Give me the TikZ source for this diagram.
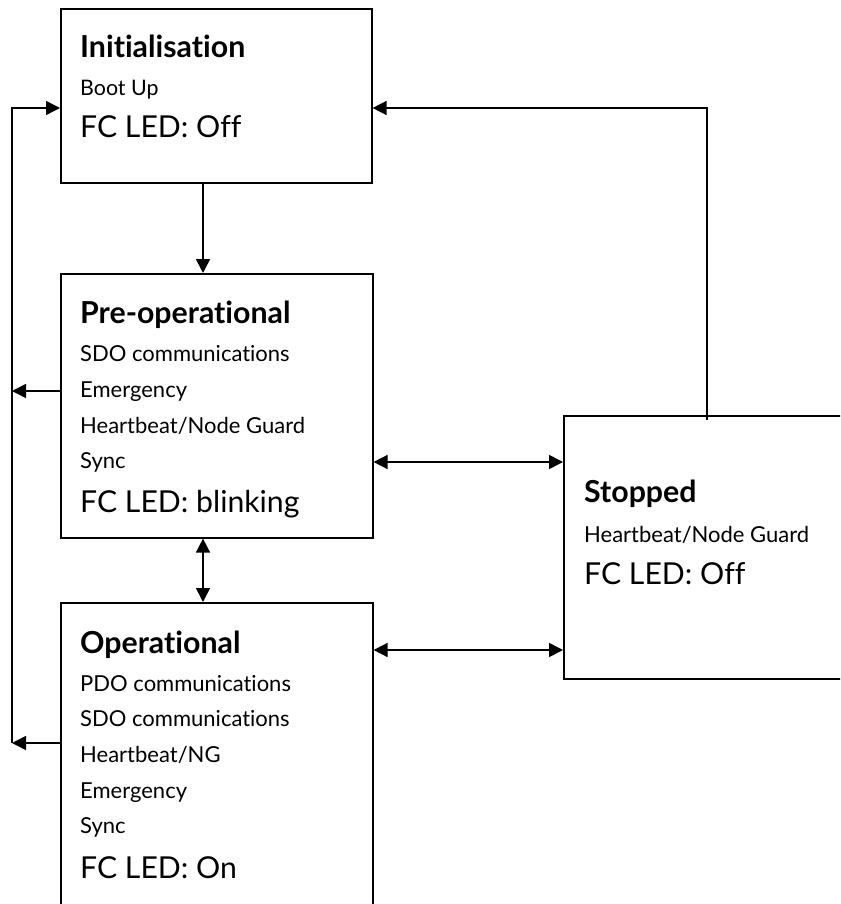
\documentclass[tikz,border=0pt]{standalone}
\usepackage{fontspec}
\setmainfont{Lato}[Ligatures=NoCommon]
\usetikzlibrary{arrows.meta}
\begin{document}
\begin{tikzpicture}[x=1pt,y=-1pt,
 box/.style={draw, line width=1.6pt, inner sep=0pt, anchor=north west},
 arr/.style={line width=1.6pt, -{Triangle[length=14pt,width=14pt]}},
 darr/.style={line width=1.6pt, {Triangle[length=14pt,width=14pt]}-{Triangle[length=14pt,width=14pt]}},
 ttl/.style={anchor=base west, inner sep=0pt, font=\fontsize{30.3}{32}\selectfont\bfseries},
 sml/.style={anchor=base west, inner sep=0pt, font=\fontsize{22}{24}\selectfont},
 tiny/.style={anchor=base west, inner sep=0pt, font=\fontsize{21.4}{23}\selectfont},
 led/.style={anchor=base west, inner sep=0pt, font=\fontsize{30.2}{32}\selectfont}]
\useasboundingbox (0,0) rectangle (840,904);
\clip (0,0) rectangle (840,904);
% boxes
\node[box, minimum width=311pt, minimum height=174pt] (init) at (60,8) {};
\node[box, minimum width=312pt, minimum height=264pt] (preop) at (60,273) {};
\node[box, minimum width=312pt, minimum height=330pt] (op) at (60,602) {};
\node[box, minimum width=300pt, minimum height=263pt] (stop) at (563,415) {};
% texts
\node[ttl] (t1) at (80,58) {Initialisation};
\node[tiny] (t1a) at (80,96) {Boot Up};
\node[led] (t1b) at (80,138) {FC LED: Off};
\node[ttl] (t2) at (80,323) {Pre-operational};
\node[sml] (t2a) at (80,361) {SDO communications};
\node[sml] (t2b) at (80,397) {Emergency};
\node[sml] (t2c) at (80,433) {Heartbeat/Node Guard};
\node[sml] (t2d) at (80,468) {Sync};
\node[led] (t2e) at (80,512) {FC LED: blinking};
\node[ttl] (t3) at (80,653) {Operational};
\node[sml] (t3a) at (80,691) {PDO communications};
\node[sml] (t3b) at (80,726) {SDO communications};
\node[sml] (t3c) at (80,762) {Heartbeat/NG};
\node[sml] (t3d) at (80,798) {Emergency};
\node[sml] (t3e) at (80,833) {Sync};
\node[led] (t3f) at (80,878) {FC LED: On};
\node[ttl] (t4) at (584,502) {Stopped};
\node[sml] (t4a) at (584,542) {Heartbeat/Node Guard};
\node[led] (t4b) at (584,584) {FC LED: Off};
% helper coordinates
\coordinate (vx) at (203,0);
\coordinate (rx) at (707,0);
\coordinate (lx) at (12,0);
\coordinate (ytop) at (0,108);
\coordinate (ypre) at (0,391);
\coordinate (yop) at (0,743);
\coordinate (ys1) at (0,462);
\coordinate (ys2) at (0,650);
% connectors
\draw[arr] (init.south -| vx) -- (preop.north -| vx);
\draw[darr] (preop.south -| vx) -- (op.north -| vx);
\draw[darr] (preop.east |- ys1) -- (stop.west |- ys1);
\draw[darr] (op.east |- ys2) -- (stop.west |- ys2);
\draw[arr] ([yshift=-5pt]stop.north -| rx) -- (rx |- ytop) -- (init.east |- ytop);
\draw[arr] (preop.west |- ypre) -- (lx |- ypre);
\draw[arr] (op.west |- yop) -- (lx |- yop);
\draw[arr] (lx |- yop) -- (lx |- ytop) -- (init.west |- ytop);
\end{tikzpicture}
\end{document}
